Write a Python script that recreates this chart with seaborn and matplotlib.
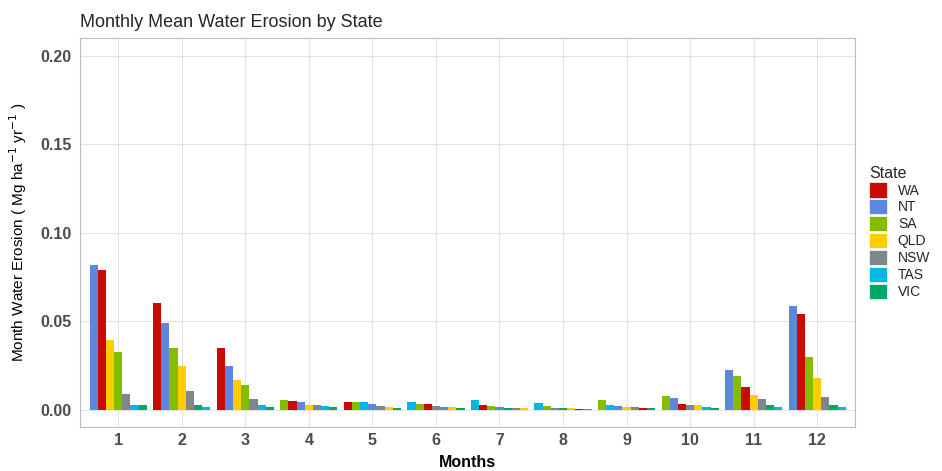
import pandas as pd
import matplotlib
matplotlib.use("Agg")
import matplotlib.pyplot as plt
from matplotlib.patches import Patch
import seaborn as sns

# ==========================================
# DATA
# ==========================================
months = [1, 2, 3, 4, 5, 6, 7, 8, 9, 10, 11, 12]
states = ["WA", "NT", "SA", "QLD", "NSW", "TAS", "VIC"]

wa  = [0.0790, 0.0600, 0.0350, 0.0049, 0.0044, 0.0031, 0.0027, 0.0005, 0.0009, 0.0031, 0.0125, 0.0542]
nt  = [0.0818, 0.0489, 0.0244, 0.0042, 0.0034, 0.0015, 0.0015, 0.0004, 0.0020, 0.0067, 0.0222, 0.0583]
sa  = [0.0327, 0.0347, 0.0138, 0.0055, 0.0040, 0.0032, 0.0021, 0.0019, 0.0055, 0.0079, 0.0191, 0.0295]
qld = [0.0394, 0.0248, 0.0165, 0.0027, 0.0015, 0.0015, 0.0008, 0.0006, 0.0015, 0.0026, 0.0080, 0.0176]
nsw = [0.0087, 0.0106, 0.0057, 0.0026, 0.0019, 0.0021, 0.0009, 0.0008, 0.0015, 0.0027, 0.0059, 0.0072]
tas = [0.0023, 0.0013, 0.0023, 0.0021, 0.0040, 0.0044, 0.0053, 0.0038, 0.0026, 0.0017, 0.0017, 0.0015]
vic = [0.0023, 0.0026, 0.0013, 0.0015, 0.0010, 0.0010, 0.0010, 0.0008, 0.0009, 0.0008, 0.0023, 0.0025]

state_colors = {
    "WA": "#CC0A00", "NT": "#5B88DB", "SA": "#86BC00", "QLD": "#FFCC00",
    "NSW": "#7D878C", "TAS": "#00B8E6", "VIC": "#00A868",
}

# long table, bars within a month sorted by value (largest first)
rows = []
for st, vals in zip(states, [wa, nt, sa, qld, nsw, tas, vic]):
    for m, v in zip(months, vals):
        rows.append({"month": m, "state": st, "value": v})
df = pd.DataFrame(rows)
df["rank"] = df.groupby("month")["value"].rank(ascending=False, method="first").astype(int)
df = df.sort_values(["month", "rank"]).reset_index(drop=True)

# ==========================================
# PLOT
# ==========================================
sns.set_theme(style="whitegrid")
plt.rcParams["font.family"] = ["Liberation Sans", "DejaVu Sans"]

fig = plt.figure(figsize=(9.42, 4.71), dpi=100)
ax = fig.add_axes([0.085, 0.093, 0.823, 0.826])

sns.barplot(
    data=df, x="month", y="value", hue="rank",
    order=months, hue_order=list(range(1, 8)),
    dodge=True, width=0.9, legend=False,
    linewidth=0, saturation=1, errorbar=None, ax=ax,
)

# recolour each bar after its state
for cont, r in zip(ax.containers, range(1, 8)):
    sub = df[df["rank"] == r].set_index("month")
    for bar, m in zip(cont.patches, months):
        bar.set_facecolor(state_colors[sub.loc[m, "state"]])

ax.set_ylim(-0.01, 0.21)
ax.set_yticks([0.0, 0.05, 0.10, 0.15, 0.20])
ax.set_yticklabels(["0.00", "0.05", "0.10", "0.15", "0.20"])
ax.set_xlim(-0.6, 11.6)

ax.set_facecolor("white")
ax.grid(True, color="#E3E3E3", linewidth=0.8)
ax.set_axisbelow(True)
for sp in ax.spines.values():
    sp.set_color("#BDBDBD")
    sp.set_linewidth(0.8)
ax.tick_params(axis="both", length=3, color="#BDBDBD", labelsize=11.5,
               labelcolor="#4D4D4D")
ax.tick_params(axis="x", pad=1)
ax.tick_params(axis="y", pad=3)
for lab in ax.get_xticklabels() + ax.get_yticklabels():
    lab.set_fontweight("bold")

ax.set_xlabel("Months", fontsize=11.5, fontweight="bold", color="black", labelpad=5)
ax.set_ylabel("Month Water Erosion ( Mg ha$^{-1}$ yr$^{-1}$ )", fontsize=11,
              color="black", labelpad=8)
ax.set_title("Monthly Mean Water Erosion by State", loc="left", fontsize=13, pad=8)

handles = [Patch(facecolor=state_colors[s], edgecolor="white", linewidth=0.5, label=s)
           for s in states]
fig.legend(handles=handles, title="State", loc="upper left",
           bbox_to_anchor=(0.917, 0.66), frameon=False, fontsize=10,
           title_fontsize=11.5, handlelength=1.25, handleheight=1.3,
           labelspacing=0.12, handletextpad=0.8, alignment="left",
           borderaxespad=0)

fig.savefig("out.png", dpi=100)
